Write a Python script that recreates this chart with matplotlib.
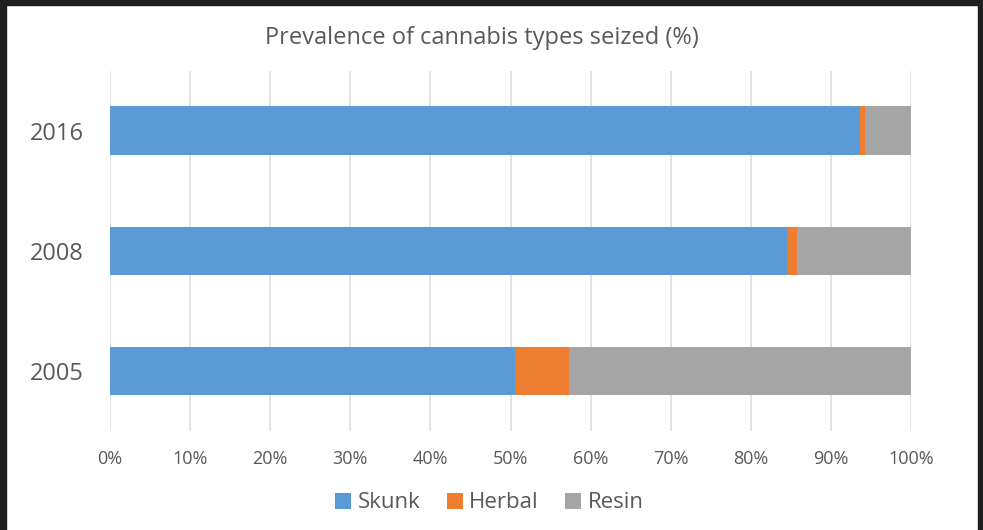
import matplotlib.pyplot as plt
from matplotlib.patches import Rectangle
import numpy as np

years = ["2005", "2008", "2016"]
skunk = [50.6, 84.5, 93.6]
herbal = [6.7, 1.3, 0.7]
resin = [42.7, 14.2, 5.7]

colors = ["#5b9bd5", "#ed7d31", "#a5a5a5"]
text_col = "#595959"

plt.rcParams['font.family'] = ['Open Sans', 'DejaVu Sans']

fig = plt.figure(figsize=(9.83, 5.3), dpi=100)
ax = fig.add_axes([110/983, 1 - 430.5/530, 801/983, 360/530])

y = np.arange(len(years))
h = 0.4
left = np.zeros(len(years))
for vals, col, name in zip([skunk, herbal, resin], colors, ["Skunk", "Herbal", "Resin"]):
    ax.barh(y, vals, left=left, height=h, color=col, label=name, zorder=3)
    left += np.array(vals)

ax.set_xlim(0, 100)
ax.set_ylim(-0.5, 2.5)
ax.set_xticks(np.arange(0, 101, 10))
ax.set_xticklabels([f"{v}%" for v in range(0, 101, 10)])
ax.set_yticks(y)
ax.set_yticklabels(years)
ax.grid(axis='x', color="#dedede", linewidth=1.2, zorder=0)
for s in ax.spines.values():
    s.set_visible(False)
ax.tick_params(length=0)
ax.tick_params(axis='x', labelsize=13, labelcolor=text_col, pad=14)
ax.tick_params(axis='y', labelsize=17, labelcolor=text_col, pad=19)

fig.text(0.49, 1 - 38/530, "Prevalence of cannabis types seized (%)",
         ha='center', va='center', fontsize=17, color=text_col)

fig.legend(loc='center', bbox_to_anchor=(0.498, 1 - 503/530), ncol=3, frameon=False,
           fontsize=16, labelcolor=text_col, handlelength=0.7, handleheight=0.7,
           handletextpad=0.3, columnspacing=1.2)

# dark screenshot border
dark = "#1e1e1e"
fig.patches.append(Rectangle((0, 0), 6/983, 1, transform=fig.transFigure, color=dark, zorder=10))
fig.patches.append(Rectangle((0, 1 - 5/530), 1, 5/530, transform=fig.transFigure, color=dark, zorder=10))
fig.patches.append(Rectangle((1 - 5/983, 0), 5/983, 1, transform=fig.transFigure, color=dark, zorder=10))

fig.savefig("out.png", dpi=100)
